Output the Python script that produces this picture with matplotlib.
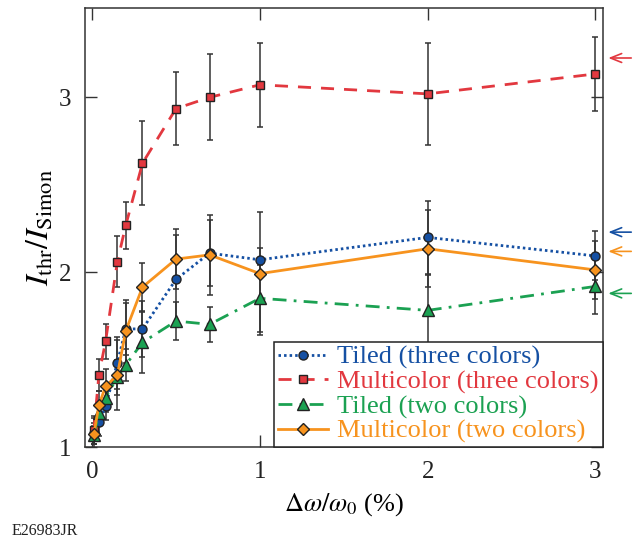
import matplotlib
matplotlib.use("Agg")
import matplotlib.pyplot as plt

plt.rcParams['font.family'] = ['Liberation Serif', 'DejaVu Serif']
plt.rcParams['mathtext.fontset'] = 'stix'

# Bandwidth scan (percent of omega_0)
dw = [0.01, 0.04, 0.08, 0.15, 0.2, 0.3, 0.5, 0.7, 1, 2, 3]

tiled3 = [1.08, 1.146, 1.236, 1.483, 1.677, 1.677, 1.96, 2.11, 2.072, 2.20, 2.094]
tiled3_err = [0.06, 0.08, 0.08, 0.15, 0.15, 0.16, 0.255, 0.19, 0.07, 0.21, 0.14]

multi3 = [1.10, 1.414, 1.606, 2.061, 2.268, 2.624, 2.936, 3.0, 3.072, 3.02, 3.134]
multi3_err = [0.08, 0.09, 0.1, 0.145, 0.135, 0.24, 0.21, 0.245, 0.24, 0.29, 0.21]

tiled2 = [1.07, 1.194, 1.285, 1.40, 1.471, 1.60, 1.722, 1.703, 1.852, 1.783, 1.92]
tiled2_err = [0.05, 0.07, 0.08, 0.1, 0.09, 0.175, 0.11, 0.10, 0.19, 0.2, 0.156]

multi2 = [1.076, 1.24, 1.35, 1.412, 1.665, 1.916, 2.076, 2.10, 1.993, 2.135, 2.014]
multi2_err = [0.09, 0.08, 0.1, 0.2, 0.18, 0.135, 0.17, 0.23, 0.35, 0.22, 0.165]

# asymptotic levels marked by arrows on the right edge
arrow_levels = [3.225, 2.23, 2.12, 1.88]

blue = '#1550a3'
red = '#e2383f'
green = '#1ba152'
orange = '#f7931e'

series = [
    ('Tiled (three colors)', tiled3, tiled3_err, blue, 'o', 6.5, (0, (0.9, 1.1))),
    ('Multicolor (three colors)', multi3, multi3_err, red, 's', 5.5, (0, (4.7, 3.6))),
    ('Tiled (two colors)', tiled2, tiled2_err, green, '^', 8, (0, (5, 2.6, 1, 2.6))),
    ('Multicolor (two colors)', multi2, multi2_err, orange, 'D', 6.5, '-'),
]

fig = plt.figure(figsize=(6.34, 5.41), dpi=100)
ax = fig.add_axes([0.134, 0.173, 0.817, 0.812])

for i, (label, y, err, color, marker, ms, ls) in enumerate(series):
    ax.errorbar(dw, y, yerr=err, fmt='none', ecolor='#333333', elinewidth=1.1,
                capsize=2.5, capthick=1.1, zorder=2)
    ax.plot(dw, y, color=color, linestyle=ls, lw=2, marker=marker, ms=ms,
            markerfacecolor=color, markeredgecolor='#222222', markeredgewidth=1,
            label=label, zorder=3 + i)

ax.set_xlim(-0.043, 3.045)
ax.set_ylim(1, 3.51)
ax.set_xticks([0, 1, 2, 3])
ax.set_yticks([1, 2, 3])
ax.tick_params(direction='in', length=8.5, width=1, labelsize=18, pad=10,
               top=True, right=True, colors='#333333', labelcolor='#222222')
for s in ax.spines.values():
    s.set_linewidth(1.1)
    s.set_color('#333333')

ax.set_xlabel(r'$\Delta\omega/\omega_0$ (%)', fontsize=19, labelpad=6)
ax.set_ylabel(r'$I_{\rm thr}/I_{\rm Simon}$', fontsize=23, labelpad=2)

leg = ax.legend(loc='lower right', bbox_to_anchor=(1, 0), borderaxespad=0,
                fontsize=19, fancybox=False, framealpha=1, edgecolor='#222222',
                handlelength=1.9, handletextpad=0.35, labelspacing=0.03,
                borderpad=0.15)
leg.get_frame().set_linewidth(1.1)
for txt, (_, _, _, color, _, _, _) in zip(leg.get_texts(), series):
    txt.set_color(color)
leg.set_zorder(10)

for lvl, color in zip(arrow_levels, [red, blue, orange, green]):
    ax.annotate('', xy=(1.005, lvl), xycoords=('axes fraction', 'data'),
                xytext=(1.06, lvl), textcoords=('axes fraction', 'data'),
                arrowprops=dict(arrowstyle='->,head_length=0.8,head_width=0.32',
                                color=color, lw=1.2),
                annotation_clip=False)

fig.text(0.019, 0.012, 'E26983JR', fontsize=11.5, color='#222222')

fig.savefig('out.png', dpi=100)
